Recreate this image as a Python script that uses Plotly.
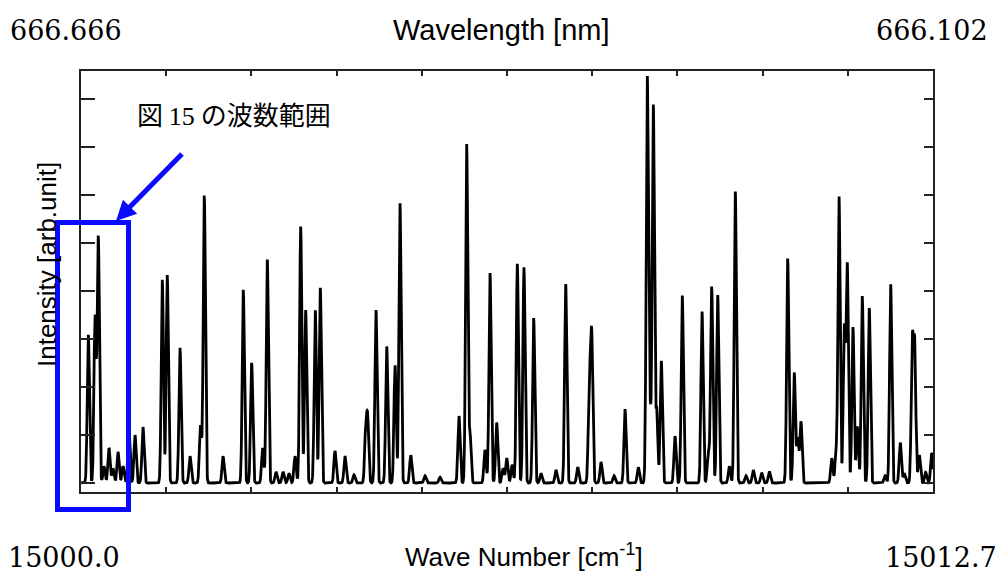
import numpy as np
import plotly.graph_objects as go

# ---- data ----
wn_start, wn_end = 15000.0, 15012.7
wl_start_label, wl_end_label = "666.666", "666.102"
wn_start_label, wn_end_label = "15000.0", "15012.7"

peak_wn = [
    15000.109, 15000.209, 15000.258, 15000.343, 15000.417, 15000.477, 15000.552, 15000.626,
    15000.715, 15000.805, 15000.924, 15001.212, 15001.286, 15001.476, 15001.625, 15001.781,
    15001.838, 15002.117, 15002.419, 15002.544, 15002.708, 15002.777, 15002.907, 15003.011,
    15003.100, 15003.190, 15003.275, 15003.349, 15003.492, 15003.567, 15003.786, 15003.935,
    15004.069, 15004.244, 15004.274, 15004.397, 15004.557, 15004.681, 15004.755, 15004.915,
    15005.128, 15005.351, 15005.634, 15005.749, 15005.798, 15006.022, 15006.097, 15006.196,
    15006.290, 15006.346, 15006.425, 15006.504, 15006.603, 15006.748, 15006.857, 15007.080,
    15007.225, 15007.404, 15007.577, 15007.612, 15007.751, 15007.945, 15008.109, 15008.307,
    15008.441, 15008.481, 15008.531, 15008.581, 15008.650, 15008.854, 15008.963, 15009.257,
    15009.351, 15009.401, 15009.491, 15009.664, 15009.753, 15009.912, 15010.021, 15010.146,
    15010.260, 15010.534, 15010.632, 15010.683, 15010.732, 15011.190, 15011.254, 15011.299,
    15011.378, 15011.422, 15011.507, 15011.572, 15011.646, 15011.750, 15011.985, 15012.069,
    15012.212, 15012.272, 15012.391, 15012.427, 15012.496, 15012.591, 15012.680,
]
peak_int = [
    3.09, 3.47, 5.14, 0.35, 0.73, 0.30, 0.65, 0.35,
    1.11, 1.00, 1.17, 4.24, 4.34, 2.82, 0.56, 1.20,
    6.01, 0.56, 4.03, 2.51, 0.73, 4.66, 0.23, 0.23,
    0.20, 0.56, 5.35, 3.61, 3.61, 4.07, 0.67, 0.56,
    0.17, 1.05, 1.25, 3.61, 2.85, 2.46, 5.84, 0.58,
    0.15, 0.12, 1.40, 7.06, 1.04, 0.69, 4.38, 1.26,
    0.30, 0.52, 0.38, 4.57, 4.50, 3.44, 0.20, 0.27,
    4.15, 0.33, 2.08, 3.05, 0.44, 0.15, 1.54, 0.33,
    8.43, 1.50, 7.87, 1.52, 2.55, 0.98, 3.91, 3.58,
    0.65, 4.10, 3.92, 0.35, 6.08, 0.15, 0.27, 0.21,
    0.24, 4.69, 2.30, 0.93, 1.28, 0.52, 0.58, 5.98,
    3.21, 4.53, 3.26, 1.18, 3.90, 3.65, 0.15, 4.15,
    0.84, 0.20, 2.90, 2.81, 0.58, 0.22, 0.63,
]
line_sigma = 0.016  # spectral line width (cm^-1)

# ---- build spectrum from the peak list ----
x = np.linspace(wn_start, wn_end, 5000)
y = np.zeros_like(x)
for c, h in zip(peak_wn, peak_int):
    y += h * np.exp(-0.5 * ((x - c) / line_sigma) ** 2)

fig = go.Figure()
fig.add_trace(go.Scatter(x=x, y=y, mode="lines",
                         line=dict(color="black", width=2.8),
                         hoverinfo="skip", showlegend=False))
fig.add_trace(go.Scatter(x=[], y=[], yaxis="y2", showlegend=False))

yr = [-0.188, 8.592]
tick_step = (wn_end - wn_start) / 10
xticks = [wn_start + tick_step * k for k in range(1, 10)]

fig.update_layout(
    width=1005, height=575,
    margin=dict(l=81, r=72, t=71, b=83),
    paper_bgcolor="white", plot_bgcolor="white",
    xaxis=dict(range=[wn_start, wn_end], showgrid=False, zeroline=False,
               showline=True, linecolor="#222", linewidth=1.5, mirror="ticks",
               ticks="inside", ticklen=5, tickwidth=1.5, tickcolor="#222",
               tickvals=xticks, showticklabels=False),
    yaxis=dict(range=yr, showgrid=False, zeroline=False,
               showline=True, linecolor="#222", linewidth=1.5,
               ticks="inside", ticklen=14, tickwidth=1.5, tickcolor="#222",
               tickvals=list(range(0, 9)), showticklabels=False),
    yaxis2=dict(range=yr, overlaying="y", side="right", anchor="x",
                showgrid=False, zeroline=False,
                showline=True, linecolor="#222", linewidth=1.5,
                ticks="inside", ticklen=9, tickwidth=1.5, tickcolor="#222",
                tickvals=list(range(0, 9)), showticklabels=False),
)

def px(xp):
    return (xp - 81) / 852.0

def py(yp):
    return (492 - yp) / 421.0

serif = dict(family="DejaVu Serif", size=27, color="black")
sans_top = dict(family="Liberation Sans, Arial", size=29, color="black")
sans_bot = dict(family="Liberation Sans, Arial", size=26, color="black")

ann = [
    dict(x=px(8), y=py(31), text=wl_start_label, xanchor="left", yanchor="middle", font=serif),
    dict(x=px(501), y=py(30), text="Wavelength [nm]", xanchor="center", yanchor="middle", font=sans_top),
    dict(x=px(990), y=py(31), text=wl_end_label, xanchor="right", yanchor="middle", font=serif),
    dict(x=px(6), y=py(557), text=wn_start_label, xanchor="left", yanchor="middle", font=serif),
    dict(x=px(524), y=py(555), text="Wave Number [cm<sup>-1</sup>]", xanchor="center", yanchor="middle", font=sans_bot),
    dict(x=px(999), y=py(557), text=wn_end_label, xanchor="right", yanchor="middle", font=serif),
    dict(x=px(47), y=py(265), text="Intensity [arb.unit]", textangle=-90,
         xanchor="center", yanchor="middle",
         font=dict(family="Liberation Sans, Arial", size=26, color="black")),
    dict(x=px(135), y=py(113),
         text="図 <span style='font-family:Liberation Serif'>15</span> の波数範囲",
         xanchor="left", yanchor="middle",
         font=dict(family="Noto Sans CJK JP", size=26, color="black")),
]
for a in ann:
    a.update(xref="paper", yref="paper", showarrow=False)

ann.append(dict(x=px(116), y=py(221), xref="paper", yref="paper",
                ax=69, ay=-70, axref="pixel", ayref="pixel",
                showarrow=True, arrowhead=2, arrowsize=0.8, arrowwidth=5,
                arrowcolor="#0a0aff", text=" "))

fig.update_layout(annotations=ann)
fig.add_shape(type="rect", xref="paper", yref="paper",
              x0=px(57.5), x1=px(128.5), y0=py(509.5), y1=py(222.5),
              line=dict(color="#0a0aff", width=5), fillcolor="rgba(0,0,0,0)",
              layer="above")

fig.write_html("out.html")
